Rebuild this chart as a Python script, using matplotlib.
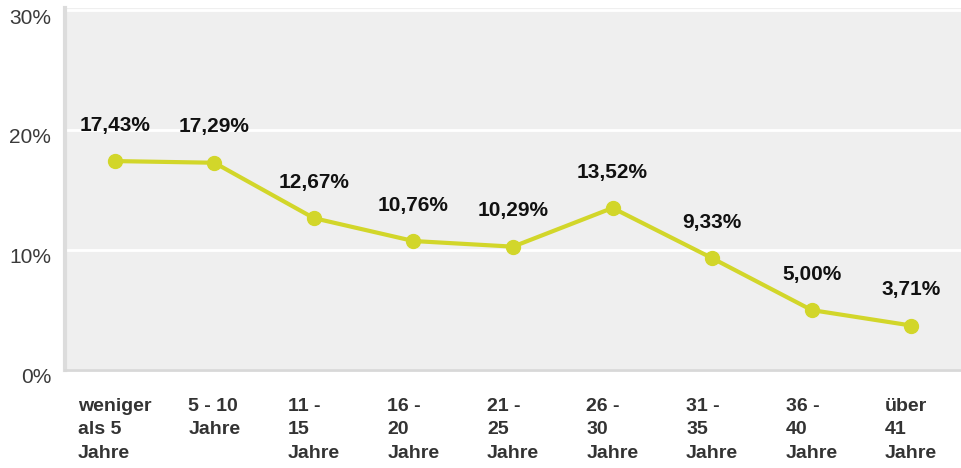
import matplotlib
matplotlib.use("Agg")
import matplotlib.pyplot as plt

plt.rcParams["font.family"] = ["Liberation Sans", "DejaVu Sans"]

# Daten
categories = ["weniger\nals 5\nJahre", "5 - 10\nJahre", "11 -\n15\nJahre",
              "16 -\n20\nJahre", "21 -\n25\nJahre", "26 -\n30\nJahre",
              "31 -\n35\nJahre", "36 -\n40\nJahre", "über\n41\nJahre"]
values = [17.43, 17.29, 12.67, 10.76, 10.29, 13.52, 9.33, 5.00, 3.71]
value_labels = ["17,43%", "17,29%", "12,67%", "10,76%", "10,29%",
                "13,52%", "9,33%", "5,00%", "3,71%"]
yticks = [0, 10, 20, 30]
ytick_labels = ["0%", "10%", "20%", "30%"]

LINE = "#d2d62a"

fig = plt.figure(figsize=(9.61, 4.68), dpi=100)
ax = fig.add_axes([65 / 961, 98 / 468, 896 / 961, 362 / 468])
ax.set_facecolor("#efefef")

x = list(range(len(values)))
ax.plot(x, values, color=LINE, lw=3, marker="o", markersize=10,
        markerfacecolor=LINE, markeredgecolor=LINE, zorder=3)

for xi, v, lab in zip(x, values, value_labels):
    ax.annotate(lab, (xi, v), xytext=(0, 19), textcoords="offset points",
                ha="center", va="bottom", fontsize=15, fontweight="bold",
                color="#111111")

ax.set_xlim(-0.5, len(values) - 0.5)
ax.set_ylim(0, 30.2)

# y labels sit a little below their gridline, so draw them by hand
ax.set_yticks(yticks)
ax.set_yticklabels([])
ax.tick_params(axis="y", length=0)
for v, lab in zip(yticks, ytick_labels):
    ax.annotate(lab, (0, v), xycoords=ax.get_yaxis_transform(),
                xytext=(-10, -5.5), textcoords="offset points",
                ha="right", va="center", fontsize=15, color="#3a3a3a",
                annotation_clip=False)

ax.set_xticks(x)
ax.set_xticklabels(categories, fontsize=14, fontweight="bold",
                   color="#333333", multialignment="left", linespacing=1.5)
ax.tick_params(axis="x", length=0, pad=20)

ax.grid(axis="y", color="white", lw=2)
ax.set_axisbelow(True)

for s in ("top", "right"):
    ax.spines[s].set_visible(False)
ax.spines["left"].set_color("#dcdcdc")
ax.spines["left"].set_linewidth(3)
ax.spines["bottom"].set_color("#d8d8d8")
ax.spines["bottom"].set_linewidth(2)

fig.savefig("out.png", dpi=100, facecolor="white")
